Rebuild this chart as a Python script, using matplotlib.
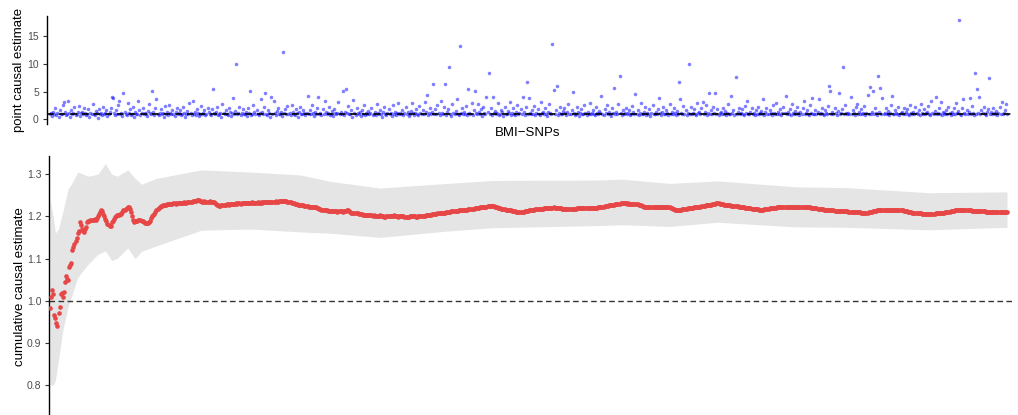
import numpy as np
import matplotlib.pyplot as plt

plt.rcParams['font.family'] = ['Liberation Sans', 'DejaVu Sans']

# point causal estimate of each BMI SNP (top panel)
point_est = [
    0.9,1.2,0.6,1.4,1.0,2.1,0.8,1.1,0.5,1.7,1.0,0.9,2.6,3.1,1.3,0.7,1.0,3.4,1.2,0.4,1.6,0.9,1.1,2.2,0.8,1.0,1.4,2.4,0.6,1.1,
    1.3,0.9,2.0,1.1,0.7,1.0,1.8,0.5,1.2,0.9,2.7,1.0,0.8,1.5,1.1,0.3,1.9,1.0,1.2,0.7,2.3,0.9,1.1,1.6,0.6,1.0,1.3,2.0,4.0,3.8,
    1.1,0.8,1.7,1.0,2.5,3.3,0.9,1.2,0.6,4.8,1.4,1.0,0.7,3.0,1.1,1.9,0.8,1.0,2.2,0.5,1.3,1.0,0.9,3.4,1.6,0.7,1.1,2.0,0.9,1.2,
    1.0,0.6,1.5,2.8,1.1,0.9,5.2,1.3,0.8,2.1,3.6,1.0,0.7,1.2,1.8,0.9,1.1,0.4,2.4,1.0,1.4,0.8,2.6,1.1,0.9,1.6,1.0,0.6,1.3,2.0,
    0.9,1.1,1.7,0.8,1.0,2.3,1.2,0.5,1.0,1.5,0.9,2.9,1.1,0.7,3.4,1.0,1.3,0.8,1.9,1.1,0.6,1.0,2.4,0.9,1.2,1.6,0.8,1.0,2.1,1.3,
    1.0,0.7,1.8,5.5,1.1,0.9,1.4,2.2,0.8,1.0,1.2,0.5,2.7,1.1,0.9,1.6,1.0,0.8,2.0,1.3,0.6,1.1,3.9,1.0,1.5,10.1,0.9,1.2,2.3,0.8,
    1.1,1.9,0.9,1.0,1.4,0.6,2.1,1.2,5.1,0.8,1.0,2.6,1.3,0.9,1.7,1.0,0.7,1.1,3.7,1.4,0.9,2.3,4.7,1.0,0.8,1.6,1.2,0.5,4.1,1.0,
    3.4,1.1,0.8,1.5,2.0,1.0,0.9,1.3,0.6,12.2,1.1,1.8,0.9,2.4,1.0,1.2,0.7,2.6,1.4,1.0,0.8,1.9,1.1,0.5,1.3,2.2,1.0,0.9,1.6,1.1,
    0.8,1.2,4.3,1.0,1.7,0.9,2.5,1.1,0.6,1.4,1.0,2.0,4.0,0.9,1.2,0.7,1.8,1.0,3.4,1.3,0.9,1.1,2.2,0.8,1.0,1.5,0.6,1.9,1.1,1.0,
    1.2,3.1,0.9,1.4,1.0,5.1,0.7,1.3,5.5,1.1,2.4,0.9,1.0,1.6,0.4,3.5,1.2,0.8,2.0,1.1,0.9,1.3,0.6,1.7,1.0,2.6,0.8,1.2,1.0,1.5,
    0.9,1.1,2.1,0.7,1.0,1.4,0.8,2.8,1.2,0.9,1.6,1.0,0.5,1.3,2.3,1.0,0.8,1.1,1.9,0.9,1.2,0.6,2.5,1.0,1.4,0.8,1.1,3.0,0.9,1.2,
    1.0,1.7,0.8,1.1,2.2,0.9,1.3,0.6,1.0,1.5,2.9,1.1,0.8,1.2,1.9,1.0,0.7,2.4,1.1,0.9,1.6,1.0,3.2,1.3,4.4,0.8,1.1,2.0,0.9,1.4,
    6.4,1.0,1.8,0.9,2.6,1.2,0.7,3.3,1.1,1.0,2.2,6.4,0.8,1.3,1.9,9.5,1.0,0.6,2.8,1.2,0.9,1.5,3.6,1.0,0.8,13.3,1.1,2.1,0.9,1.4,
    1.0,2.4,0.8,5.5,1.2,1.0,3.0,0.7,1.6,5.1,1.1,0.9,2.7,1.3,1.0,1.8,0.6,2.2,1.1,0.9,4.0,1.4,8.4,1.0,2.0,0.8,4.0,1.2,1.5,0.9,
    1.1,2.9,0.8,1.0,1.7,1.3,0.6,2.3,1.0,0.9,1.5,1.1,3.1,0.8,1.2,2.0,1.0,0.7,1.4,2.6,0.9,1.1,1.8,1.0,4.0,1.3,0.8,2.2,6.7,1.0,
    3.8,1.1,0.9,1.6,1.0,2.4,0.7,1.2,1.9,1.0,0.8,3.2,1.1,1.4,0.9,2.1,1.0,0.6,1.3,2.7,1.1,0.9,13.6,5.3,1.0,1.7,6.1,0.8,1.2,2.3,
    1.0,0.9,1.5,2.0,1.1,0.7,1.3,2.8,1.0,0.9,1.6,4.9,1.2,0.8,1.0,2.2,1.4,0.6,1.1,1.8,0.9,1.0,2.5,1.2,0.8,1.4,1.0,3.0,0.9,1.1,
    1.7,1.0,0.8,2.3,1.1,0.9,1.5,1.2,4.2,1.0,0.7,1.9,1.1,2.6,0.9,1.3,1.0,0.6,2.1,1.2,5.7,0.9,1.4,1.0,2.8,7.8,1.1,0.8,1.6,1.0,
    1.2,2.0,0.9,1.1,1.7,0.8,1.0,2.4,1.3,0.9,4.5,1.0,1.6,0.7,1.1,2.9,1.0,0.9,1.4,2.2,0.8,1.2,1.0,1.8,0.6,1.1,2.5,1.0,0.9,1.3,
    1.0,1.9,3.8,1.1,0.8,1.4,2.2,1.0,0.9,1.6,1.2,0.7,2.7,1.0,1.3,0.9,2.0,1.1,0.8,1.5,1.0,6.7,3.6,1.2,0.9,2.4,1.0,1.7,0.8,1.1,
    10.0,1.0,2.3,0.9,1.2,1.8,1.0,0.7,2.9,1.1,1.4,0.9,2.0,3.2,1.0,1.3,2.6,0.8,1.1,4.7,1.0,1.6,0.9,2.2,1.2,4.7,1.0,1.8,0.8,1.1,
    1.3,0.9,2.1,1.0,1.5,0.8,1.2,2.7,1.0,0.9,4.2,1.1,1.6,0.7,7.6,1.0,1.3,2.0,0.9,1.1,1.8,1.0,0.8,2.4,1.2,3.3,1.0,0.9,1.4,2.1,
    1.0,1.2,0.8,1.7,1.0,2.3,0.9,1.1,1.5,1.0,3.6,0.8,1.3,2.0,1.0,0.9,1.6,1.1,0.7,2.5,1.2,1.0,2.9,0.9,1.4,1.0,1.8,0.8,1.1,2.2,
    1.1,4.2,0.9,1.3,1.0,1.9,0.8,2.8,1.2,1.0,1.5,0.9,2.2,1.1,0.7,1.4,1.0,2.0,3.4,0.9,1.2,1.7,1.0,0.8,2.5,1.1,3.8,1.0,0.9,1.6,
    1.0,1.3,3.7,0.9,1.1,2.1,1.0,0.8,1.6,1.2,1.0,2.4,6.0,5.1,0.9,1.4,1.0,2.0,1.1,0.7,1.5,4.7,1.0,1.2,1.8,9.5,0.9,2.6,1.1,1.0,
    1.2,0.9,4.0,1.0,1.6,1.1,0.8,2.2,2.7,1.0,1.3,0.9,1.9,1.0,1.1,2.4,0.7,1.2,4.4,1.0,5.8,0.9,1.4,5.1,1.0,2.0,1.1,0.8,7.8,1.3,
    5.6,1.0,3.8,0.9,1.2,2.1,1.0,1.5,0.8,1.1,2.6,4.2,1.0,0.9,1.7,1.2,1.0,2.3,0.7,1.1,1.4,1.0,2.0,0.9,1.3,1.8,1.0,0.8,2.5,1.1,
    1.0,1.3,0.9,2.2,1.1,1.0,1.6,0.8,2.7,1.2,1.0,1.9,0.9,1.1,1.4,2.4,1.0,0.7,3.3,1.2,1.0,1.5,4.0,0.9,1.1,2.0,1.0,3.2,0.8,1.3,
    1.1,0.9,1.7,1.0,2.3,1.2,0.8,1.4,1.0,2.0,0.9,3.0,1.1,1.5,18.0,1.0,0.8,2.1,3.7,1.2,1.0,1.6,0.9,1.3,3.8,1.0,2.4,1.1,0.7,8.4,
    1.0,5.5,1.2,4.0,0.9,1.6,1.1,2.2,1.0,0.8,1.4,1.9,7.5,1.0,1.3,0.9,2.0,1.1,1.0,1.5,0.8,1.2,2.3,1.0,3.2,0.9,1.1,1.7,2.8,1.0,
]

# cumulative causal estimate as SNPs are added, in thousandths
cum_est_milli = [
    982,1008,1025,1015,966,960,948,940,970,986,1016,1019,1008,1020,1045,1058,1052,1050,1080,1085,
    1090,1119,1128,1135,1142,1149,1160,1166,1186,1180,1170,1166,1162,1170,1174,1186,1190,1190,1191,1192,
    1192,1192,1193,1192,1195,1200,1205,1210,1214,1212,1206,1200,1194,1188,1182,1180,1178,1178,1186,1190,
    1194,1198,1200,1202,1202,1204,1206,1206,1210,1214,1216,1218,1220,1222,1222,1218,1210,1200,1192,1186,
    1188,1190,1190,1191,1192,1192,1190,1188,1186,1184,1183,1183,1184,1186,1190,1195,1200,1202,1206,1210,
    1214,1218,1220,1222,1224,1225,1226,1227,1228,1228,1229,1229,1230,1230,1229,1230,1231,1231,1230,1231,
    1232,1231,1232,1232,1231,1232,1233,1232,1232,1233,1234,1234,1235,1235,1236,1236,1237,1237,1238,1238,
    1238,1237,1236,1235,1235,1236,1235,1234,1235,1235,1236,1235,1234,1235,1234,1232,1230,1228,1226,1225,
    1225,1226,1227,1227,1228,1228,1229,1229,1228,1229,1230,1230,1229,1230,1230,1231,1230,1231,1231,1230,
    1231,1232,1232,1231,1232,1232,1231,1231,1232,1232,1233,1232,1231,1232,1232,1233,1232,1232,1233,1232,
    1233,1233,1234,1233,1233,1234,1234,1235,1234,1234,1235,1235,1236,1235,1235,1236,1236,1237,1236,1237,
    1237,1237,1236,1235,1234,1234,1233,1232,1231,1231,1230,1229,1229,1228,1228,1228,1227,1226,1226,1225,
    1225,1224,1224,1223,1223,1222,1222,1222,1222,1222,1221,1220,1219,1218,1217,1216,1215,1215,1214,1214,
    1214,1213,1213,1213,1212,1212,1213,1212,1212,1212,1211,1212,1212,1212,1212,1211,1212,1213,1213,1214,
    1214,1213,1210,1208,1207,1207,1207,1208,1207,1207,1206,1206,1205,1205,1204,1204,1204,1203,1204,1203,
    1203,1202,1202,1201,1202,1201,1201,1200,1200,1201,1202,1201,1200,1200,1199,1199,1200,1200,1200,1200,
    1200,1201,1201,1202,1201,1200,1200,1199,1200,1200,1201,1201,1200,1199,1199,1198,1198,1199,1200,1200,
    1201,1201,1200,1200,1199,1199,1200,1200,1201,1200,1200,1200,1201,1202,1202,1203,1203,1204,1204,1205,
    1205,1205,1206,1206,1207,1207,1207,1208,1208,1209,1209,1209,1210,1210,1210,1211,1211,1212,1212,1212,
    1212,1213,1213,1213,1214,1214,1214,1215,1215,1215,1216,1216,1216,1217,1217,1217,1218,1218,1218,1219,
    1219,1219,1220,1220,1221,1221,1221,1222,1222,1223,1223,1224,1224,1225,1225,1225,1225,1224,1223,1222,
    1221,1220,1219,1219,1218,1218,1217,1217,1216,1216,1215,1215,1214,1214,1213,1213,1212,1212,1211,1211,
    1210,1210,1210,1210,1211,1211,1212,1212,1213,1213,1214,1214,1215,1215,1216,1216,1217,1217,1217,1217,
    1218,1218,1218,1218,1219,1219,1219,1219,1220,1220,1220,1220,1220,1221,1220,1220,1220,1220,1219,1219,
    1219,1218,1218,1218,1217,1217,1217,1217,1217,1217,1217,1218,1218,1218,1218,1219,1219,1219,1219,1219,
    1219,1220,1220,1220,1220,1220,1220,1220,1220,1220,1220,1220,1220,1220,1220,1221,1221,1222,1222,1223,
    1223,1224,1224,1225,1225,1226,1226,1227,1227,1228,1228,1229,1229,1230,1230,1230,1231,1231,1231,1231,
    1231,1231,1230,1231,1230,1230,1230,1230,1230,1230,1230,1230,1229,1228,1227,1226,1225,1224,1223,1222,
    1222,1221,1221,1221,1221,1221,1222,1222,1222,1222,1222,1222,1223,1223,1222,1222,1223,1222,1222,1222,
    1222,1222,1222,1220,1219,1218,1217,1216,1215,1215,1215,1215,1216,1216,1217,1217,1218,1218,1218,1219,
    1219,1219,1220,1220,1220,1221,1221,1222,1222,1222,1223,1223,1224,1224,1225,1225,1226,1226,1227,1227,
    1228,1228,1229,1229,1230,1230,1231,1231,1231,1230,1230,1229,1229,1228,1228,1227,1227,1226,1226,1226,
    1225,1225,1225,1224,1224,1224,1224,1223,1223,1222,1222,1221,1221,1220,1220,1220,1219,1219,1219,1218,
    1218,1218,1217,1217,1217,1217,1216,1216,1216,1216,1216,1217,1217,1218,1218,1218,1219,1219,1219,1220,
    1220,1220,1220,1221,1221,1221,1221,1222,1222,1222,1222,1222,1222,1222,1222,1222,1222,1221,1222,1222,
    1222,1222,1221,1221,1221,1222,1222,1221,1221,1221,1221,1221,1221,1221,1221,1220,1220,1220,1219,1219,
    1219,1218,1218,1218,1217,1217,1217,1216,1216,1216,1215,1215,1215,1214,1214,1214,1214,1213,1213,1213,
    1213,1213,1212,1212,1212,1212,1212,1212,1212,1212,1211,1211,1211,1211,1211,1210,1210,1210,1210,1210,
    1210,1210,1209,1209,1209,1209,1209,1209,1209,1210,1210,1211,1211,1212,1212,1213,1213,1214,1214,1214,
    1215,1215,1215,1216,1216,1216,1216,1216,1216,1215,1215,1215,1215,1215,1214,1214,1214,1214,1214,1214,
    1214,1214,1213,1213,1212,1212,1211,1211,1210,1210,1209,1209,1209,1208,1208,1208,1207,1207,1207,1206,
    1206,1206,1206,1205,1205,1205,1205,1205,1205,1206,1206,1206,1207,1207,1207,1208,1208,1208,1209,1209,
    1209,1210,1210,1211,1211,1211,1212,1212,1213,1213,1214,1214,1214,1215,1215,1215,1216,1216,1216,1216,
    1215,1215,1215,1214,1214,1214,1213,1213,1213,1213,1212,1212,1212,1212,1212,1212,1212,1212,1212,1211,
    1211,1211,1211,1211,1211,1211,1211,1211,1211,1210,1210,1210,1210,1210,1210,1210,1210,1210,1210,1210,
]

# confidence band of the cumulative estimate, read at a few SNP positions
band_idx = [0, 3, 5, 8, 12, 17, 21, 26, 36, 45, 52, 58, 63, 73, 80, 86, 100,
            142, 188, 235, 263, 310, 373, 416, 514, 538, 582, 627, 700, 748, 826, 899]
band_lo = [0.80, 0.80, 0.81, 0.86, 0.93, 0.985, 1.016, 1.055, 1.087, 1.11, 1.118, 1.095,
           1.10, 1.125, 1.10, 1.117, 1.13, 1.167, 1.17, 1.163, 1.16, 1.15, 1.165, 1.173,
           1.178, 1.18, 1.176, 1.186, 1.175, 1.174, 1.168, 1.174]
band_hi = [1.24, 1.20, 1.16, 1.17, 1.21, 1.265, 1.28, 1.305, 1.295, 1.30, 1.325, 1.30,
           1.295, 1.31, 1.29, 1.276, 1.29, 1.31, 1.305, 1.298, 1.283, 1.267, 1.278, 1.285,
           1.286, 1.288, 1.278, 1.284, 1.27, 1.268, 1.256, 1.258]

snp_top = np.arange(len(point_est))
snp_cum = np.arange(len(cum_est_milli))
cum_est = np.array(cum_est_milli) / 1000

W, H = 1018, 415
fig = plt.figure(figsize=(W / 100, H / 100), dpi=100)


def px_axes(left, top, right, bottom):
    return fig.add_axes([left / W, 1 - bottom / H, (right - left) / W, (bottom - top) / H])


ax1 = px_axes(46.5, 16, 1012, 124)
ax2 = px_axes(49, 156, 1012, 415)

for ax in (ax1, ax2):
    for side in ['top', 'right', 'bottom']:
        ax.spines[side].set_visible(False)
    ax.spines['left'].set_linewidth(1.0)
    ax.set_xticks([])
    ax.tick_params(axis='y', length=3, width=0.8, color='#333333',
                   labelcolor='#4d4d4d', labelsize=7.5, pad=2.5)
    ax.patch.set_visible(False)

# top panel
ax1.scatter(snp_top, point_est, s=6.5, color='blue', alpha=0.5, linewidths=0, zorder=2)
ax1.axhline(1, color='black', lw=1.2, ls=(0, (4, 3)), zorder=3)
ax1.set_xlim(-3.3, 903.7)
ax1.set_ylim(-0.85, 18.7)
ax1.set_yticks([0, 5, 10, 15])

# bottom panel
ax2.fill_between(band_idx, band_lo, band_hi, color='#e5e5e5', lw=0, zorder=1)
ax2.axhline(1.0, color='#333333', lw=1.0, ls=(0, (4, 2.5)), zorder=2)
ax2.scatter(snp_cum, cum_est, s=11, color='#e64646', linewidths=0, zorder=3)
ax2.set_xlim(-0.94, 903.7)
ax2.set_ylim(0.729, 1.343)
ax2.set_yticks([0.8, 0.9, 1.0, 1.1, 1.2, 1.3])
ax2.set_yticklabels(['0.8', '0.9', '1.0', '1.1', '1.2', '1.3'])

fig.text(19 / W, 1 - 70 / H, 'point causal estimate', rotation=90,
         ha='center', va='center', fontsize=9.5, color='black')
fig.text(20 / W, 1 - 287 / H, 'cumulative causal estimate', rotation=90,
         ha='center', va='center', fontsize=9.5, color='black')
fig.text(528 / W, 1 - 133 / H, 'BMI\u2212SNPs', ha='center', va='center',
         fontsize=9.5, color='black')

fig.savefig('out.png', dpi=100)
